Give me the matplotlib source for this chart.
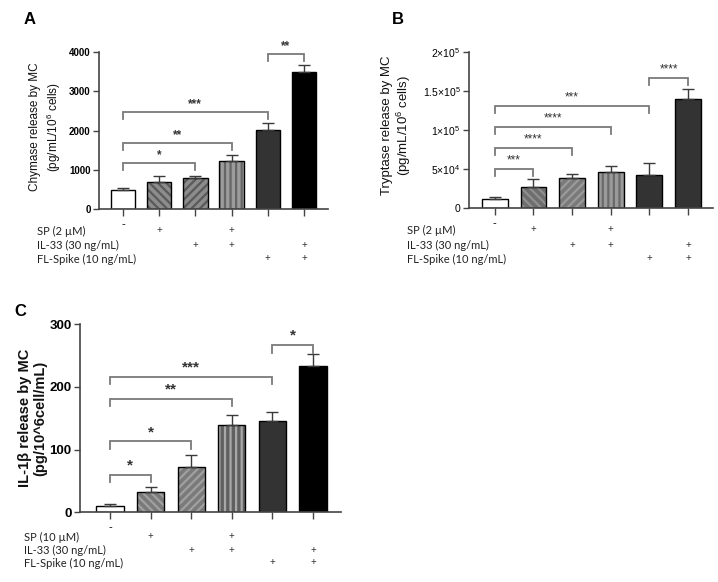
import matplotlib
matplotlib.use("Agg")
import matplotlib.pyplot as plt
import matplotlib.transforms as mtransforms

plt.rcParams['font.family'] = ['Liberation Sans', 'DejaVu Sans']
plt.rcParams['mathtext.fontset'] = 'custom'
plt.rcParams['mathtext.rm'] = 'Liberation Sans'
plt.rcParams['mathtext.it'] = 'Liberation Sans:italic'
plt.rcParams['mathtext.bf'] = 'Liberation Sans:bold'
plt.rcParams['hatch.linewidth'] = 1.6

# ---------------- data ----------------
groups = ["-", "", "", "", "", ""]
sp_row = [0, 1, 0, 1, 0, 0]
il33_row = [0, 0, 1, 1, 0, 1]
spike_row = [0, 0, 0, 0, 1, 1]

chymase_mean = [490, 700, 780, 1230, 2010, 3500]
chymase_err = [40, 150, 70, 140, 190, 160]
chymase_sig = [(0, 2, 1164, "*"), (0, 3, 1673, "**"), (0, 4, 2463, "***"), (4, 5, 3941, "**")]
chymase_ticks = [0, 1000, 2000, 3000, 4000]
chymase_ticklabels = ["0", "1000", "2000", "3000", "4000"]

tryptase_mean = [12000, 27500, 39000, 46000, 43000, 140000]
tryptase_err = [2000, 10000, 5000, 8500, 15000, 13000]
tryptase_sig = [(0, 1, 50000, "***"), (0, 2, 77000, "****"), (0, 3, 104000, "****"),
                (0, 4, 131000, "***"), (4, 5, 167000, "****")]
tryptase_ticks = [0, 50000, 100000, 150000, 200000]
tryptase_ticklabels = ["0", "5×10$^{4}$", "1×10$^{5}$", "1.5×10$^{5}$", "2×10$^{5}$"]

il1b_mean = [10, 33, 72, 139, 145, 233]
il1b_err = [4, 7, 19, 17, 15, 20]
il1b_sig = [(0, 1, 60, "*"), (0, 2, 113, "*"), (0, 3, 181, "**"), (0, 4, 216, "***"), (4, 5, 267, "*")]
il1b_ticks = [0, 100, 200, 300]
il1b_ticklabels = ["0", "100", "200", "300"]

W, H = 718, 582
fig = plt.figure(figsize=(W / 100, H / 100), dpi=100)


def fx(px):
    return px / W


def fy(py):
    return 1 - py / H


def make_axes(left, right, top, bottom):
    return fig.add_axes([fx(left), fy(bottom), (right - left) / W, (bottom - top) / H])


def draw_panel(ax, means, errs, styles, ymax, xlim, sig, drop, txt_off, star_size,
               star_weight, ticks, ticklabels, tick_size, tick_weight):
    x = list(range(len(means)))
    for i, (m, st) in enumerate(zip(means, styles)):
        face, hatch, hcol = st
        ax.bar(x[i], m, width=0.67, color=face, edgecolor='none', linewidth=0, zorder=2)
        if hatch:
            ax.bar(x[i], m, width=0.67, color='none', edgecolor=hcol, linewidth=0,
                   hatch=hatch, zorder=2.1)
        ax.bar(x[i], m, width=0.67, color='none', edgecolor='black', linewidth=1.0, zorder=2.2)
    ax.errorbar(x, means, yerr=[[0] * len(errs), errs], fmt='none', ecolor='#3a3a3a',
                elinewidth=1.0, capsize=4.5, capthick=1.0, zorder=3)
    ax.set_ylim(0, ymax)
    ax.set_xlim(*xlim)
    for s in ['top', 'right']:
        ax.spines[s].set_visible(False)
    for s in ['left', 'bottom']:
        ax.spines[s].set_color('#444444')
        ax.spines[s].set_linewidth(1.2)
    ax.set_yticks(ticks)
    ax.set_yticklabels(ticklabels, fontsize=tick_size, fontweight=tick_weight)
    ax.set_xticks(x)
    ax.set_xticklabels(groups, fontsize=8)
    ax.tick_params(axis='both', color='#444444', width=1.0, length=4, pad=2)
    ax.tick_params(axis='x', length=5)
    for i, j, y, lab in sig:
        ax.plot([i, i, j, j], [y - drop, y, y, y - drop], color='#7a7a7a', lw=1.3,
                clip_on=False, zorder=4, solid_joinstyle='miter')
        ax.text((i + j) / 2, y + txt_off, lab, ha='center', va='center', fontsize=star_size,
                fontweight=star_weight, color='#333333', clip_on=False)


def draw_rows(ax, label_x, row_y, labels, size):
    trans = mtransforms.blended_transform_factory(ax.transData, fig.transFigure)
    rows = [sp_row, il33_row, spike_row]
    for lab, yy, row in zip(labels, row_y, rows):
        fig.text(fx(label_x), fy(yy), lab, ha='left', va='center', fontsize=size,
                 family=['Lato', 'DejaVu Sans'], color='#222222')
        for i, v in enumerate(row):
            if v:
                ax.text(i, fy(yy), "+", transform=trans, ha='center', va='center',
                        fontsize=size - 1, family=['Lato', 'DejaVu Sans'], color='#333333')


# ---------------- Panel A ----------------
axA = make_axes(99, 328, 52, 209)
stylesA = [('white', None, None), ('#8c8c8c', '\\\\\\\\', '#5a5a5a'), ('#8c8c8c', '////', '#5a5a5a'),
           ('#9c9c9c', '|||', '#666666'), ('#333333', None, None), ('#000000', None, None)]
draw_panel(axA, chymase_mean, chymase_err, stylesA, 4000, (-0.66, 5.66), chymase_sig,
           180, 200, 8.5, 'bold', chymase_ticks, chymase_ticklabels, 7, 'bold')
fig.text(fx(46), fy(127), "Chymase release by MC\n(pg/mL/10$^{6}$ cells)", rotation=90,
         ha='center', va='center', fontsize=8.5, linespacing=1.25, color='#111111')
fig.text(fx(30), fy(20), "A", fontsize=12, fontweight='bold', ha='center', va='center')
draw_rows(axA, 37, [231, 245, 259], ["SP (2 µM)", "IL-33 (30 ng/mL)", "FL-Spike (10 ng/mL)"], 8)

# ---------------- Panel B ----------------
axB = make_axes(469, 713, 52.3, 208.3)
stylesB = [('white', None, None), ('#6e6e6e', '\\\\\\\\', '#8f8f8f'), ('#7a7a7a', '////', '#9a9a9a'),
           ('#9a9a9a', '|||', '#6a6a6a'), ('#333333', None, None), ('#333333', None, None)]
draw_panel(axB, tryptase_mean, tryptase_err, stylesB, 200000, (-0.67, 5.65), tryptase_sig,
           9000, 11500, 8.5, 'normal', tryptase_ticks, tryptase_ticklabels, 7.5, 'normal')
fig.text(fx(397), fy(125), "Tryptase release by MC\n(pg/mL/10$^{6}$ cells)", rotation=90,
         ha='center', va='center', fontsize=9.5, linespacing=1.2, color='#111111')
fig.text(fx(398), fy(20), "B", fontsize=12, fontweight='bold', ha='center', va='center')
draw_rows(axB, 407, [230, 245, 259], ["SP (2 µM)", "IL-33 (30 ng/mL)", "FL-Spike (10 ng/mL)"], 8)

# ---------------- Panel C ----------------
axC = make_axes(80, 341, 324.3, 512.3)
stylesC = [('white', None, None), ('#7a7a7a', '\\\\\\\\', '#a0a0a0'), ('#7a7a7a', '////', '#a0a0a0'),
           ('#606060', '|||', '#a8a8a8'), ('#333333', None, None), ('#000000', None, None)]
draw_panel(axC, il1b_mean, il1b_err, stylesC, 300, (-0.74, 5.69), il1b_sig,
           12, 15, 11, 'bold', il1b_ticks, il1b_ticklabels, 9.5, 'bold')
fig.text(fx(33), fy(418), "IL-1β release by MC\n(pg/10^6cell/mL)", rotation=90,
         ha='center', va='center', fontsize=10.5, fontweight='bold', linespacing=1.1,
         color='#111111')
fig.text(fx(20), fy(312), "C", fontsize=12, fontweight='bold', ha='center', va='center')
draw_rows(axC, 24, [537, 550, 563], ["SP (10 µM)", "IL-33 (30 ng/mL)", "FL-Spike (10 ng/mL)"], 8)

fig.savefig("out.png", dpi=100)
